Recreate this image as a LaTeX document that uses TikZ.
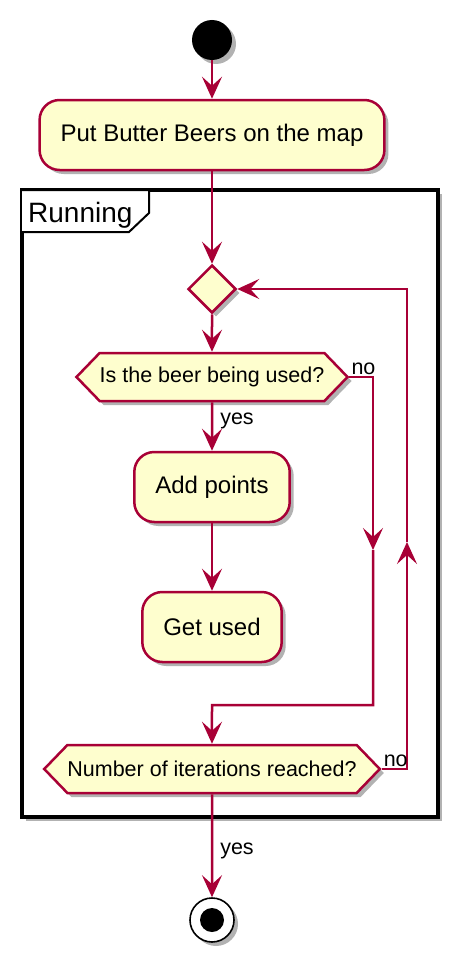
\documentclass[tikz,border=0pt]{standalone}
\usepackage{fontspec}
\setmainfont{Liberation Sans}
\usetikzlibrary{arrows.meta,shapes.symbols,shapes.geometric,shadows}
\definecolor{umlred}{HTML}{A80036}
\definecolor{umlfill}{HTML}{FEFECE}

\begin{document}
\begin{tikzpicture}[x = 1pt, y = -1pt,
		shade/.style = {drop shadow = {shadow xshift = 4pt, shadow yshift = -4pt, opacity = 0.3, fill = black}},
		action/.style = {draw = umlred, fill = umlfill, line width = 2.5pt, rounded corners = 20pt, minimum height = 70pt, inner xsep = 21pt, font = \fontsize{24}{28}\selectfont, shade},
		question/.style = {draw = umlred, fill = umlfill, line width = 2.5pt, signal, signal to = west and east, signal pointer angle = 92, minimum height = 48pt, inner xsep = 0pt, font = \fontsize{21.5}{26}\selectfont, shade},
		merger/.style = {draw = umlred, fill = umlfill, line width = 2.5pt, diamond, minimum size = 48pt, inner sep = 0pt, shade},
		flow/.style = {draw = umlred, line width = 2.5pt, -{Stealth[length = 22pt, width = 20pt, inset = 9pt]}},
		answer/.style = {font = \fontsize{21.5}{26}\selectfont, inner sep = 1pt}
	]
		\useasboundingbox (0,0) rectangle (470,974);
		\draw [line width = 3.2pt, fill = white, shade] (22,190) rectangle (438,817);
		\draw [line width = 2pt, fill = white] (22,190) -- (149,190) -- (149,213) -- (129,232) -- (22,232);
		\node [anchor = base west, inner sep = 0pt, font = \fontsize{28}{32}\selectfont] (running) at (28,222) {Running};
		
		\node [circle, fill = black, minimum size = 40pt, inner sep = 0pt, shade] (start) at (212,40) {};
		\node [action] (putbeers) at (212,135) {Put Butter Beers on the map};
		\node [merger] (merge) at (212,289) {};
		\node [question] (beerused) at (212,377) {Is the beer being used?};
		\node [action] (addpoints) at (212,487) {Add points};
		\node [action] (getused) at (212,627) {Get used};
		\node [question] (iterations) at (212,769) {Number of iterations reached?};
		\node [circle, draw = black, line width = 1.6pt, fill = white, minimum size = 44pt, inner sep = 0pt, shade] (stop) at (212,920) {};
		\node [circle, fill = black, minimum size = 24pt, inner sep = 0pt] (stopdot) at (stop) {};
		\coordinate (nomid) at (373,550);
		\coordinate (nojoin) at (212,705);
		\coordinate (loopmid) at (407,542);
		
		\draw [flow] (start) -- (putbeers);
		\draw [flow] (putbeers) -- (merge);
		\draw [flow] (merge) -- (beerused);
		\draw [flow] (beerused) -- node [answer, anchor = west, xshift = 6pt, pos = 0.38] {yes} (addpoints);
		\draw [flow] (addpoints) -- (getused);
		\draw [flow] (beerused.east) -| node [answer, anchor = south west, pos = 0] {no} (nomid);
		\draw [flow] (nomid) |- (nojoin) -- (iterations);
		\draw [flow] (iterations.east) -| node [answer, anchor = south west, pos = 0] {no} (loopmid);
		\draw [flow] (loopmid) |- (merge);
		\draw [flow] (iterations) -- node [answer, anchor = west, xshift = 6pt, pos = 0.55] {yes} (stop);
	\end{tikzpicture}
\end{document}
